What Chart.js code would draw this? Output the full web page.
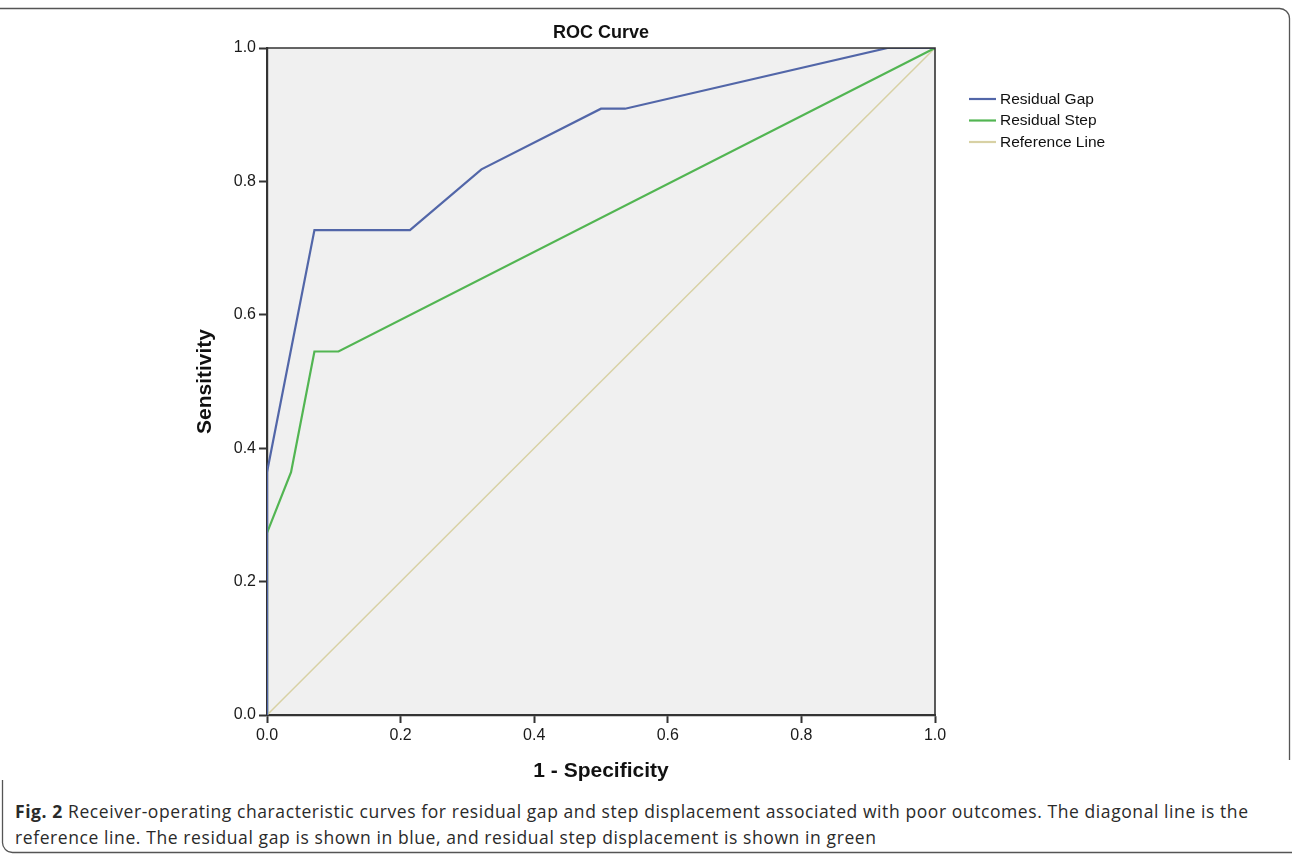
<!DOCTYPE html>
<html>
<head>
<meta charset="utf-8">
<script src="https://cdn.jsdelivr.net/npm/chart.js@4.4.1/dist/chart.umd.min.js"></script>
<style>
  html, body { margin: 0; padding: 0; background: #ffffff; }
  body { width: 1292px; height: 854px; position: relative; overflow: hidden; }
  #wrap { position: absolute; left: 0; top: 0; width: 1292px; height: 790px; }
  #frame { position: absolute; left: 0; top: 0; }
  .cap { position: absolute; left: 15px; font-family: "Open Sans", "Lato", sans-serif; font-size: 17.5px; color: #2a2a2a; white-space: nowrap; line-height: 22px; }
  .cap b { font-weight: bold; }
</style>
</head>
<body>
<svg id="frame" width="1292" height="854">
  <path d="M0 8.5 H1279 A10 10 0 0 1 1289.5 18.5 V760" fill="none" stroke="#555" stroke-width="1.3"/>
  <path d="M2.5 780 V842 A10 10 0 0 0 12.5 852.5 H1292" fill="none" stroke="#555" stroke-width="1.3"/>
</svg>
<div id="wrap"><canvas id="c" width="1292" height="790"></canvas></div>
<div class="cap" id="cap1" style="top:800px;"><b>Fig. 2</b> Receiver-operating characteristic curves for residual gap and step displacement associated with poor outcomes. The diagonal line is the</div>
<div class="cap" id="cap2" style="top:826px;">reference line. The residual gap is shown in blue, and residual step displacement is shown in green</div>
<script>
// ---- data ----
const seriesNames = ["Residual Gap", "Residual Step", "Reference Line"];
const gapFpr  = [0, 0, 0.071, 0.214, 0.321, 0.500, 0.536, 0.929, 1];
const gapSens = [0, 0.364, 0.727, 0.727, 0.818, 0.909, 0.909, 1, 1];
const stepFpr  = [0, 0, 0.036, 0.071, 0.107, 1];
const stepSens = [0, 0.273, 0.364, 0.545, 0.545, 1];
const refFpr  = [0, 1];
const refSens = [0, 1];
const tickValues = [0, 0.2, 0.4, 0.6, 0.8, 1.0];

const toPts = (xs, ys) => xs.map((x, i) => ({ x: x, y: ys[i] }));
const colors = ["#5266a8", "#52b552", "#d8d1a4"];
const widths = [2.2, 2.2, 1.5];

const AX = "'Liberation Sans', Arial, sans-serif";

const bgPlugin = {
  id: 'bg',
  beforeDraw(chart) {
    const { ctx, chartArea: a } = chart;
    ctx.save();
    ctx.fillStyle = '#f0f0f0';
    ctx.fillRect(a.left, a.top, a.right - a.left, a.bottom - a.top);
    ctx.restore();
  },
  afterDraw(chart) {
    const { ctx, chartArea: a } = chart;
    ctx.save();
    ctx.strokeStyle = '#333';
    ctx.lineWidth = 1.6;
    ctx.beginPath();
    ctx.moveTo(a.left, a.top);
    ctx.lineTo(a.right, a.top);
    ctx.lineTo(a.right, a.bottom);
    ctx.stroke();
    // legend
    ctx.font = "15.5px " + AX;
    ctx.textBaseline = 'middle';
    ctx.fillStyle = '#111';
    chart.data.datasets.forEach((ds, i) => {
      const y = 99 + i * 21.5;
      ctx.strokeStyle = ds.borderColor;
      ctx.lineWidth = 2.2;
      ctx.beginPath();
      ctx.moveTo(969, y);
      ctx.lineTo(996, y);
      ctx.stroke();
      ctx.fillText(ds.label, 1000, y + 0.5);
    });
    ctx.restore();
  }
};

const tickFmt = v => Number(v).toFixed(1);

new Chart(document.getElementById('c'), {
  type: 'line',
  data: {
    datasets: [
      { label: seriesNames[0], data: toPts(gapFpr, gapSens) },
      { label: seriesNames[1], data: toPts(stepFpr, stepSens) },
      { label: seriesNames[2], data: toPts(refFpr, refSens) }
    ].map((d, i) => Object.assign(d, {
      borderColor: colors[i], backgroundColor: colors[i], borderWidth: widths[i],
      pointRadius: 0, pointHoverRadius: 0, tension: 0, fill: false
    }))
  },
  options: {
    responsive: false,
    animation: false,
    devicePixelRatio: 1,
    layout: { padding: { left: 193, right: 357, top: 10, bottom: 6 } },
    plugins: {
      legend: { display: false },
      tooltip: { enabled: false },
      title: {
        display: true, text: 'ROC Curve', fullSize: false,
        color: '#111', font: { family: AX, size: 18, weight: 'bold', lineHeight: 1.2 },
        padding: { top: 12, bottom: 4.4 }
      }
    },
    scales: {
      x: {
        type: 'linear', min: 0, max: 1,
        afterFit: s => { s.height = 69; },
        afterBuildTicks: s => { s.ticks = tickValues.map(v => ({ value: v })); },
        ticks: { callback: tickFmt, color: '#1a1a1a', font: { family: AX, size: 16 }, padding: 3, maxRotation: 0 },
        grid: { drawOnChartArea: false, drawTicks: true, tickLength: 8, color: '#333', tickWidth: 2 },
        border: { display: true, color: '#333', width: 2.2 },
        title: { display: true, text: '1 - Specificity', color: '#111', font: { family: AX, size: 21, weight: 'bold', lineHeight: 1.2 }, padding: 0 }
      },
      y: {
        type: 'linear', min: 0, max: 1,
        afterFit: s => { s.width = 74; },
        afterBuildTicks: s => { s.ticks = tickValues.map(v => ({ value: v })); },
        ticks: { callback: tickFmt, color: '#1a1a1a', font: { family: AX, size: 16 }, padding: 3 },
        grid: { drawOnChartArea: false, drawTicks: true, tickLength: 8, color: '#333', tickWidth: 2 },
        border: { display: true, color: '#333', width: 2.2 },
        title: { display: true, text: 'Sensitivity', color: '#111', font: { family: AX, size: 21, weight: 'bold', lineHeight: 1.2 }, padding: 0 }
      }
    }
  },
  plugins: [bgPlugin]
});

// fit caption lines to the reference widths
function fitLine(id, target) {
  const el = document.getElementById(id);
  const w = el.getBoundingClientRect().width;
  const n = el.textContent.length;
  const ls = (target - w) / (n - 1);
  el.style.letterSpacing = ls.toFixed(3) + 'px';
}
fitLine('cap1', 1233);
fitLine('cap2', 861);
</script>
</body>
</html>
